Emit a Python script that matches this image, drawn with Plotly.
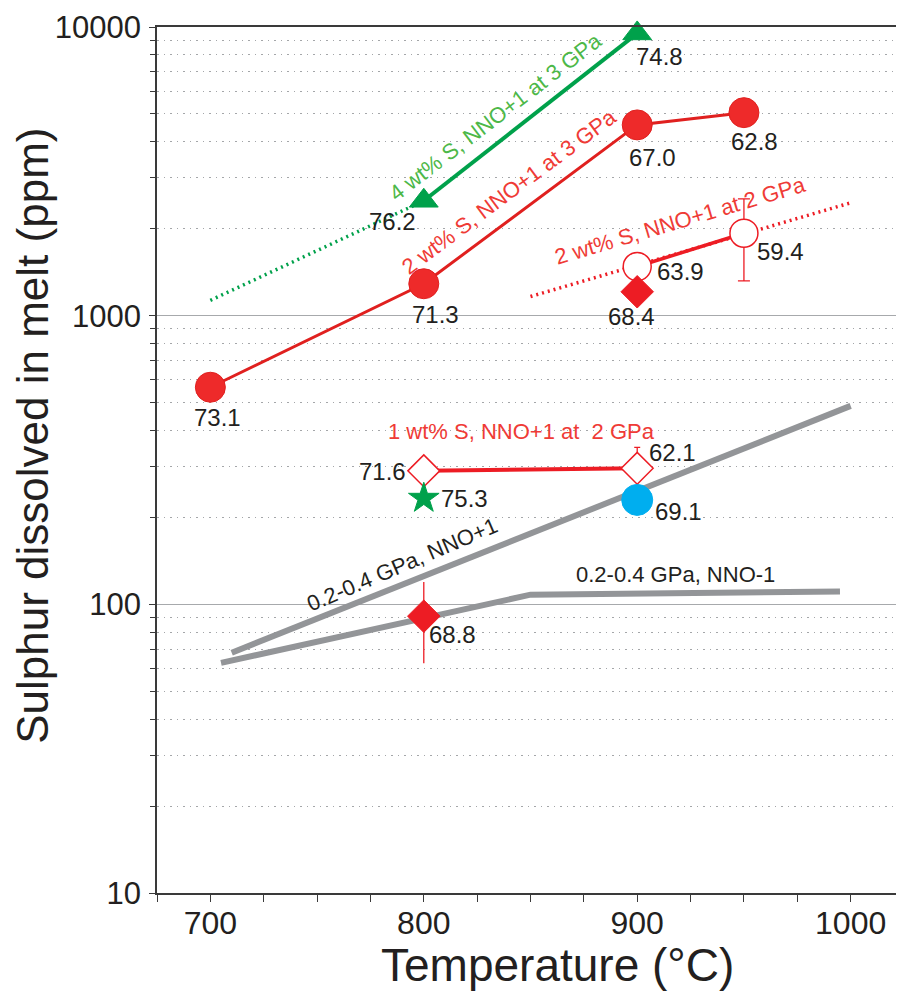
import numpy as np
import plotly.graph_objects as go

FONT = "Liberation Sans, Arial, Helvetica, sans-serif"
RED = "#ED1C24"
RED_TXT = "#EF3B36"
GREEN = "#00A14B"
GREEN_TXT = "#4DB848"
BLUE = "#00AEEF"
GRAY = "#939598"
INK = "#231F20"

# ---------------- data ----------------
# 2 wt% S, NNO+1 at 3 GPa (filled red circles)
t_2wt_3gpa = [700, 800, 900, 950]
s_2wt_3gpa = [565, 1290, 4580, 5050]
lab_2wt_3gpa = ["73.1", "71.3", "67.0", "62.8"]

# 4 wt% S, NNO+1 at 3 GPa (green triangles) + dotted trend
t_4wt_3gpa = [800, 900]
s_4wt_3gpa = [2500, 9500]
lab_4wt_3gpa = ["76.2", "74.8"]
t_4wt_trend = [700, 797]
s_4wt_trend = [1130, 2440]

# 2 wt% S, NNO+1 at 2 GPa (open red circles) + dotted trend
t_2wt_2gpa = [900, 950]
s_2wt_2gpa = [1480, 1930]
e_2wt_2gpa = [0, 610]
lab_2wt_2gpa = ["63.9", "59.4"]
t_2wt_trend = [850, 1000]
s_2wt_trend = [1165, 2460]

# filled red diamonds
t_diam = [900, 800]
s_diam = [1210, 91]
e_diam = [0, 28.5]
lab_diam = ["68.4", "68.8"]

# 1 wt% S, NNO+1 at 2 GPa (open red diamonds)
t_1wt_2gpa = [800, 900]
s_1wt_2gpa = [290, 296]
e_1wt_2gpa = [0, 54]
lab_1wt_2gpa = ["71.6", "62.1"]

# green star and blue circle
t_star = [800]
s_star = [233]
e_star = [8]
lab_star = ["75.3"]
t_blue = [900]
s_blue = [230]
lab_blue = ["69.1"]

# 0.2-0.4 GPa curves
t_nno_p1 = [710, 1000]
s_nno_p1 = [68, 487]
t_nno_m1 = [705, 850, 995]
s_nno_m1 = [62.7, 108, 110.7]

x_ticks = [700, 800, 900, 1000]
y_ticks = [10, 100, 1000, 10000]

# ---------------- figure ----------------
fig = go.Figure()

def line(x, y, color, width, dash="solid"):
    fig.add_trace(go.Scatter(x=x, y=y, mode="lines",
                             line=dict(color=color, width=width, dash=dash),
                             hoverinfo="skip", showlegend=False))

line(t_nno_p1, s_nno_p1, GRAY, 6)
line(t_nno_m1, s_nno_m1, GRAY, 6)
line(t_4wt_trend, s_4wt_trend, GREEN, 3.5, "2px,4px")
line(t_2wt_trend, s_2wt_trend, RED, 3.5, "2px,4px")

def pts(x, y, mode, symbol, size, fill, lcolor, lw, err=None, ecolor=RED, ewidth=6, linew=3.5):
    kw = {}
    if err is not None:
        kw["error_y"] = dict(type="data", array=err, visible=True, color=ecolor,
                             thickness=1.3, width=ewidth)
    fig.add_trace(go.Scatter(x=x, y=y, mode=mode,
                             line=dict(color=lcolor, width=linew),
                             marker=dict(symbol=symbol, size=size, color=fill,
                                         line=dict(color=lcolor, width=lw)),
                             cliponaxis=False, hoverinfo="skip", showlegend=False, **kw))

pts(t_2wt_3gpa, s_2wt_3gpa, "lines+markers", "circle", 30, "#EE2A2A", "#E0201F", 1, linew=3)
pts(t_4wt_3gpa, s_4wt_3gpa, "lines+markers", "triangle-up", 25, GREEN, GREEN, 1, linew=4)
pts(t_2wt_2gpa, s_2wt_2gpa, "lines+markers", "circle", 28, "white", RED, 1.5,
    err=e_2wt_2gpa, ewidth=6, linew=3.5)
pts(t_diam, s_diam, "markers", "diamond", 25, RED, RED, 1, err=e_diam, ewidth=0)
pts(t_1wt_2gpa, s_1wt_2gpa, "lines+markers", "diamond", 24.5, "white", RED, 1.5,
    err=e_1wt_2gpa, ewidth=3, linew=4)
pts(t_star, s_star, "markers", "star", 23, GREEN, GREEN, 1, err=e_star,
    ecolor="#007A3D", ewidth=3)
pts(t_blue, s_blue, "markers", "circle", 31, BLUE, BLUE, 1)

# value labels (pixel offsets relative to their point)
def labels(x, y, texts, offs):
    for xi, yi, t, (dx, dy) in zip(x, y, texts, offs):
        fig.add_annotation(x=xi, y=np.log10(yi), text=t, showarrow=False,
                           xshift=dx, yshift=dy, xanchor="center", yanchor="middle",
                           font=dict(family=FONT, size=24, color=INK))

labels(t_2wt_3gpa, s_2wt_3gpa, lab_2wt_3gpa, [(7, -30), (12, -31), (15, -33), (11, -29)])
labels(t_4wt_3gpa, s_4wt_3gpa, lab_4wt_3gpa, [(-31, -21), (22, -23)])
labels(t_2wt_2gpa, s_2wt_2gpa, lab_2wt_2gpa, [(43, -5), (37, -18)])
labels(t_diam, s_diam, lab_diam, [(-6, -25), (29, -18)])
labels(t_1wt_2gpa, s_1wt_2gpa, lab_1wt_2gpa, [(-41, -1), (35, 16)])
labels(t_star, s_star, lab_star, [(41, 0)])
labels(t_blue, s_blue, lab_blue, [(41, -12)])

# series captions
def caption(text, x, ly, angle, color, size=22):
    fig.add_annotation(x=x, y=ly, text=text, showarrow=False, textangle=angle,
                       xanchor="center", yanchor="middle",
                       font=dict(family=FONT, size=size, color=color))

caption("4 wt% S, NNO+1 at 3 GPa", 833.8, 3.690, -37.4, GREEN_TXT)
caption("2 wt% S, NNO+1 at 3 GPa", 840.2, 3.4285, -36.6, RED_TXT)
caption("2 wt% S, NNO+1 at 2 GPa", 920.4, 3.3287, -16.5, RED_TXT)
caption("1 wt% S, NNO+1 at  2 GPa", 846.0, 2.600, 0, RED_TXT)
caption("0.2-0.4 GPa, NNO+1", 790.1, 2.1365, -23.2, INK)
caption("0.2-0.4 GPa, NNO-1", 918.0, 2.1019, 0, INK)

# axis titles
fig.add_annotation(xref="paper", yref="paper", x=0.536, y=-0.083,
                   text="Temperature (°C)", showarrow=False,
                   xanchor="center", yanchor="middle",
                   font=dict(family=FONT, size=46, color=INK))
fig.add_annotation(xref="paper", yref="paper", x=-0.1676, y=0.5277,
                   text="Sulphur dissolved in melt (ppm)", showarrow=False,
                   textangle=-90, xanchor="center", yanchor="middle",
                   font=dict(family=FONT, size=44, color=INK))

minor_y = [m * 10 ** e for e in range(1, 4) for m in range(2, 10)]

fig.update_xaxes(range=[675, 1025], tickvals=x_ticks, ticktext=[str(v) for v in x_ticks],
                 ticks="outside", ticklen=7, tickwidth=1.3, tickcolor="#3A3A3A",
                 showline=True, linecolor="#3A3A3A", linewidth=1.5, mirror=True,
                 showgrid=False, zeroline=False, ticklabelstandoff=-6,
                 minor=dict(dtick=25, tick0=700, ticks="outside", ticklen=7,
                            tickwidth=1.3, tickcolor="#3A3A3A", showgrid=False),
                 tickfont=dict(family=FONT, size=32, color=INK))
fig.update_yaxes(type="log", range=[1, 4], tickvals=y_ticks,
                 ticktext=[str(v) for v in y_ticks],
                 ticks="outside", ticklen=6, tickwidth=1.3, tickcolor="#3A3A3A",
                 showline=True, linecolor="#3A3A3A", linewidth=1.5, mirror=False,
                 showgrid=True, gridcolor="#A7A9AC", gridwidth=1.3, zeroline=False,
                 ticklabelstandoff=2,
                 minor=dict(tickmode="array", tickvals=minor_y, ticks="outside",
                            ticklen=5, tickwidth=1, tickcolor="#3A3A3A",
                            showgrid=True, gridcolor="#A4A6A9", gridwidth=1,
                            griddash="1.5px,5px"),
                 tickfont=dict(family=FONT, size=31, color=INK))

# the page body adds an 8px offset; size the figure so the plot lands in place
fig.update_layout(width=896, height=988, margin=dict(l=149, r=0, t=19, b=103),
                  plot_bgcolor="white", paper_bgcolor="white", showlegend=False,
                  font=dict(family=FONT, color=INK))

fig.write_html("out.html")
